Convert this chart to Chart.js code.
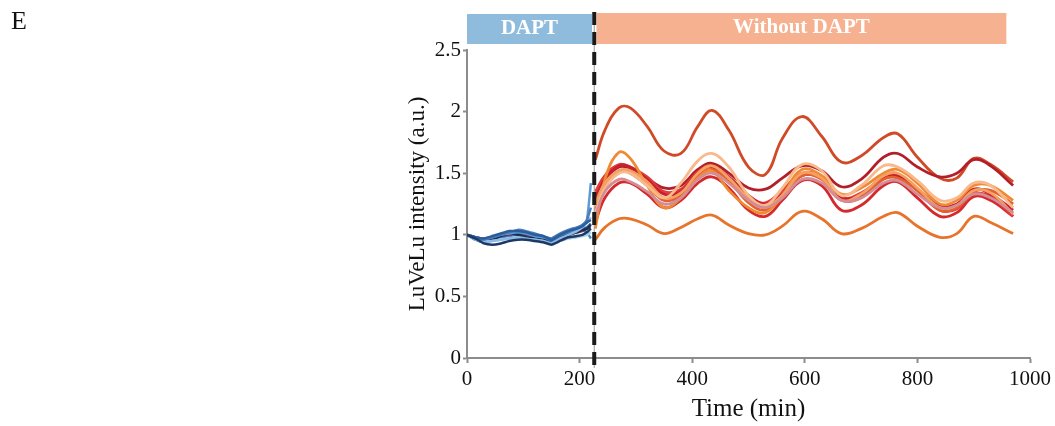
<!DOCTYPE html>
<html>
<head>
<meta charset="utf-8">
<script src="https://cdn.jsdelivr.net/npm/chart.js@4"></script>
<style>
  body { margin: 0; background: #fff; }
  #wrap { position: relative; width: 1055px; height: 426px; }
  #panel { position: absolute; left: 11px; top: 6px; font: 26px "Liberation Serif", serif; color: #111; }
</style>
</head>
<body>
<div id="wrap">
  <div id="panel">E</div>
  <canvas id="chart" width="1055" height="426"></canvas>
</div>
<script>
// time points (min)
const blueTimes = [0, 15, 30, 45, 60, 75, 90, 105, 120, 135, 150, 165, 180, 195, 205, 213, 220];
const redTimes = [228, 245, 270, 290, 320, 350, 380, 410, 435, 465, 500, 530, 560, 595, 630, 665, 700, 740, 765, 800, 840, 870, 900, 930, 970];

// DAPT period traces
const blue1 = [1.0, 0.97, 0.93, 0.92, 0.93, 0.95, 0.96, 0.96, 0.95, 0.94, 0.92, 0.95, 0.98, 0.99, 1.00, 1.02, 1.05];
const blue2 = [1.0, 0.98, 0.97, 0.99, 1.01, 1.03, 1.03, 1.02, 1.00, 0.99, 0.96, 1.00, 1.03, 1.05, 1.07, 1.10, 1.12];
const blue3 = [1.0, 0.97, 0.96, 0.98, 1.00, 1.02, 1.04, 1.03, 1.01, 0.99, 0.97, 1.01, 1.04, 1.06, 1.08, 1.12, 1.22];
const blue4 = [1.0, 0.98, 0.97, 0.98, 1.00, 1.01, 1.02, 1.01, 0.99, 0.98, 0.97, 1.00, 1.03, 1.05, 1.08, 1.12, 1.42];
const blue5 = [1.0, 0.96, 0.94, 0.95, 0.96, 0.97, 0.98, 0.97, 0.96, 0.95, 0.93, 0.97, 1.00, 1.03, 1.06, 1.10, 1.14];
const blue6 = [1.0, 0.97, 0.95, 0.95, 0.96, 0.97, 0.97, 0.96, 0.96, 0.95, 0.93, 0.95, 0.97, 0.98, 0.99, 1.00, 1.02];
const blue7 = [1.0, 0.96, 0.94, 0.96, 0.99, 1.01, 1.00, 0.98, 0.97, 0.96, 0.93, 0.97, 1.00, 1.02, 1.04, 1.05, 1.08];
const blue8 = [1.0, 0.97, 0.95, 0.97, 0.99, 1.02, 1.02, 1.01, 1.00, 0.98, 0.95, 0.98, 1.01, 1.03, 1.05, 1.06, 1.09];
const blue9 = [1.0, 0.98, 0.97, 0.98, 0.99, 1.00, 1.01, 1.00, 0.99, 0.98, 0.96, 0.98, 1.00, 1.02, 1.03, 1.05, 1.06];
const blue10 = [1.0, 0.97, 0.96, 0.97, 0.98, 0.99, 1.00, 0.99, 0.98, 0.97, 0.95, 0.98, 1.01, 1.03, 1.04, 1.02, 0.97];
const blueColors = ['#1c3966', '#2b5c9c', '#4a7dbd', '#5d9ad6', '#8fb8e2', '#a9d1ea', '#163055', '#3a6aa8', '#7a3a5a', '#3f8fd0'];

// without DAPT traces
const redTop = [1.61, 1.85, 2.03, 2.03, 1.88, 1.68, 1.66, 1.88, 2.01, 1.85, 1.55, 1.49, 1.78, 1.96, 1.80, 1.59, 1.64, 1.79, 1.82, 1.63, 1.46, 1.46, 1.62, 1.57, 1.43];
const redDark = [1.31, 1.45, 1.55, 1.54, 1.46, 1.38, 1.40, 1.53, 1.58, 1.50, 1.38, 1.37, 1.46, 1.56, 1.52, 1.39, 1.45, 1.63, 1.66, 1.55, 1.47, 1.50, 1.61, 1.56, 1.40];
const redLow = [0.96, 1.06, 1.13, 1.13, 1.08, 1.01, 1.06, 1.13, 1.16, 1.08, 1.01, 1.00, 1.07, 1.19, 1.13, 1.01, 1.05, 1.15, 1.18, 1.07, 0.98, 1.01, 1.15, 1.10, 1.01];
const red1 = [1.10, 1.30, 1.42, 1.42, 1.33, 1.22, 1.28, 1.42, 1.47, 1.38, 1.20, 1.15, 1.28, 1.44, 1.40, 1.20, 1.24, 1.40, 1.43, 1.30, 1.15, 1.18, 1.31, 1.28, 1.15];
const red2 = [1.28, 1.45, 1.56, 1.55, 1.45, 1.33, 1.35, 1.50, 1.55, 1.47, 1.32, 1.25, 1.33, 1.48, 1.46, 1.30, 1.32, 1.47, 1.48, 1.37, 1.24, 1.25, 1.37, 1.33, 1.20];
const red3 = [1.15, 1.35, 1.45, 1.43, 1.35, 1.25, 1.30, 1.45, 1.50, 1.42, 1.28, 1.22, 1.30, 1.45, 1.42, 1.28, 1.30, 1.42, 1.44, 1.33, 1.22, 1.24, 1.33, 1.30, 1.18];
const red4 = [1.18, 1.38, 1.50, 1.50, 1.40, 1.30, 1.42, 1.60, 1.66, 1.55, 1.32, 1.24, 1.38, 1.57, 1.52, 1.32, 1.40, 1.56, 1.55, 1.44, 1.28, 1.30, 1.42, 1.40, 1.22];
const red5 = [1.05, 1.45, 1.67, 1.62, 1.40, 1.22, 1.30, 1.46, 1.52, 1.36, 1.22, 1.18, 1.32, 1.53, 1.48, 1.33, 1.38, 1.50, 1.53, 1.42, 1.25, 1.28, 1.40, 1.40, 1.28];
const red6 = [1.20, 1.40, 1.52, 1.50, 1.40, 1.28, 1.32, 1.48, 1.53, 1.44, 1.26, 1.20, 1.30, 1.48, 1.45, 1.28, 1.30, 1.45, 1.46, 1.36, 1.20, 1.22, 1.35, 1.36, 1.25];
const red7 = [1.25, 1.42, 1.52, 1.52, 1.43, 1.30, 1.34, 1.50, 1.56, 1.46, 1.30, 1.23, 1.32, 1.50, 1.46, 1.28, 1.33, 1.48, 1.50, 1.38, 1.22, 1.24, 1.36, 1.34, 1.17];
const red8 = [1.35, 1.48, 1.57, 1.55, 1.47, 1.35, 1.37, 1.51, 1.56, 1.46, 1.30, 1.26, 1.36, 1.50, 1.47, 1.30, 1.34, 1.46, 1.47, 1.36, 1.20, 1.21, 1.33, 1.31, 1.15];
const redSeries = [red3, red4, red7, red5, red6, red2, red8, red1, redDark, redTop, redLow];
const redColors = ['#d48c96', '#f8b98c', '#f4a062', '#f08a32', '#e4602f', '#c8202c', '#e23c3a', '#d42a2e', '#b31f29', '#d04a28', '#e8732a'];

const xTicks = [0, 200, 400, 600, 800, 1000];
const yTicks = [0, 0.5, 1, 1.5, 2, 2.5];
const switchTime = 226;

function toPoints(times, values) {
    return values.map((v, i) => ({ x: times[i], y: v }));
}

const datasets = [];
[blue1, blue2, blue3, blue4, blue5, blue6, blue7, blue8, blue9, blue10].forEach((vals, i) => {
    datasets.push({ data: toPoints(blueTimes, vals), borderColor: blueColors[i], borderWidth: 2.5, tension: 0.15 });
});
redSeries.forEach((vals, i) => {
    datasets.push({ data: toPoints(redTimes, vals), borderColor: redColors[i], borderWidth: 2.8 });
});

// banner + dashed switch line
const overlay = {
    id: 'overlay',
    afterDatasetsDraw(chart) {
        const ctx = chart.ctx;
        const x = chart.scales.x;
        const sx = x.getPixelForValue(switchTime);
        ctx.save();
        ctx.fillStyle = '#8fbcdc';
        const a0 = x.getPixelForValue(0), a1 = x.getPixelForValue(222);
        ctx.fillRect(a0, 14, a1 - a0, 30);
        ctx.fillStyle = '#f6b290';
        const b0 = x.getPixelForValue(230), b1 = x.getPixelForValue(958);
        ctx.fillRect(b0, 13, b1 - b0, 31);
        ctx.fillStyle = '#fff';
        ctx.font = 'bold 21px "Liberation Serif", serif';
        ctx.textAlign = 'center';
        ctx.textBaseline = 'middle';
        ctx.fillText('DAPT', (a0 + a1) / 2, 29);
        ctx.fillText('Without DAPT', (b0 + b1) / 2, 28);

        ctx.strokeStyle = '#999';
        ctx.lineWidth = 1;
        ctx.beginPath();
        ctx.moveTo(sx, 12);
        ctx.lineTo(sx, 368);
        ctx.stroke();
        ctx.strokeStyle = '#1a1a1a';
        ctx.lineWidth = 4;
        ctx.setLineDash([13, 7]);
        ctx.beginPath();
        ctx.moveTo(sx, 12);
        ctx.lineTo(sx, 368);
        ctx.stroke();
        ctx.restore();
    }
};

new Chart(document.getElementById('chart'), {
    type: 'line',
    data: { datasets },
    options: {
        responsive: false,
        animation: false,
        events: [],
        layout: { padding: { left: 400, right: 21, top: 50, bottom: 0 } },
        elements: { point: { radius: 0 }, line: { tension: 0.4, fill: false } },
        plugins: { legend: { display: false }, tooltip: { enabled: false } },
        scales: {
            x: {
                type: 'linear',
                min: 0,
                max: 1000,
                afterFit: s => { s.height = 68; },
                afterBuildTicks: s => { s.ticks = xTicks.map(v => ({ value: v })); },
                border: { color: '#8c8c8c', width: 2 },
                grid: { drawOnChartArea: false, tickLength: 5, tickColor: '#8c8c8c', tickWidth: 2 },
                ticks: { color: '#111', padding: 4, maxRotation: 0, callback: v => String(v), font: { family: '"Liberation Serif", serif', size: 21 } },
                title: { display: true, text: 'Time (min)', color: '#111', padding: { top: 0, bottom: 2 }, font: { family: '"Liberation Serif", serif', size: 25 } }
            },
            y: {
                min: 0,
                max: 2.5,
                afterFit: s => { s.width = 67; },
                afterBuildTicks: s => { s.ticks = yTicks.map(v => ({ value: v })); },
                border: { color: '#8c8c8c', width: 2 },
                grid: { drawOnChartArea: false, tickLength: 4, tickColor: '#8c8c8c', tickWidth: 2 },
                ticks: { color: '#111', padding: 2, callback: v => String(v), font: { family: '"Liberation Serif", serif', size: 21 } },
                title: { display: true, text: 'LuVeLu intensity (a.u.)', color: '#111', padding: { top: 4, bottom: 0 }, font: { family: '"Liberation Serif", serif', size: 23 } }
            }
        }
    },
    plugins: [overlay]
});
</script>
</body>
</html>
